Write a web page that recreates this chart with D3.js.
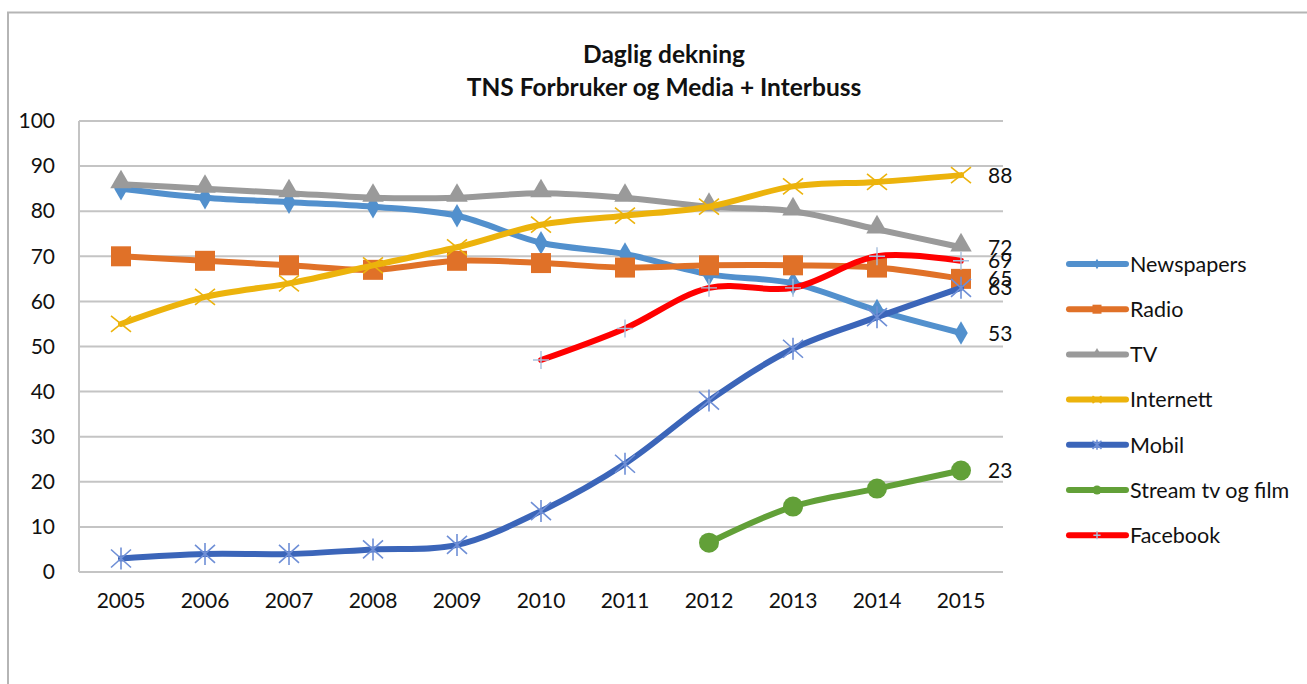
<!DOCTYPE html>
<html>
<head>
<meta charset="utf-8">
<script src="https://cdn.jsdelivr.net/npm/d3@7"></script>
<style>
  body { margin: 0; background: #fff; }
  svg { display: block; font-family: Lato, "Open Sans", sans-serif; }
</style>
</head>
<body>
<svg id="chart" width="1307" height="684"></svg>
<script>
const years = ["2005", "2006", "2007", "2008", "2009", "2010", "2011", "2012", "2013", "2014", "2015"];
const yTicks = [0, 10, 20, 30, 40, 50, 60, 70, 80, 90, 100];

const newspapers = [85, 83, 82, 81, 79, 73, 70.5, 66, 64, 58, 53];
const radio      = [70, 69, 68, 67, 69, 68.5, 67.5, 68, 68, 67.5, 65];
const tv         = [86, 85, 84, 83, 83, 84, 83, 81, 80, 76, 72];
const internett  = [55, 61, 64, 68, 72, 77, 79, 81, 85.5, 86.5, 88];
const mobil      = [3, 4, 4, 5, 6, 13.5, 24, 38, 49.5, 56.5, 63];
const stream     = [null, null, null, null, null, null, null, 6.5, 14.5, 18.5, 22.5];
const facebook   = [null, null, null, null, null, 47, 54, 63, 63, 70, 69];

const seriesNames = ["Newspapers", "Radio", "TV", "Internett", "Mobil", "Stream tv og film", "Facebook"];
const seriesValues = [newspapers, radio, tv, internett, mobil, stream, facebook];
const seriesColors = ["#5290cd", "#e07128", "#9a9a9a", "#ecb30c", "#3b65b9", "#62a038", "#ff0000"];
const seriesMarkers = ["diamond", "square", "triangle", "x", "asterisk", "circle", "plus"];

const svg = d3.select("#chart");
const margin = {left: 79, top: 121};
const plotRight = 1003;

// frame
svg.append("path")
    .attr("d", "M8,684 V12.5 H1307")
    .attr("fill", "none")
    .attr("stroke", "#b5b5b5")
    .attr("stroke-width", 2);

// title
const title = svg.append("text")
    .attr("text-anchor", "middle")
    .attr("font-weight", "bold")
    .attr("font-size", 24.5)
    .attr("fill", "#111");
title.append("tspan").attr("x", 664).attr("y", 63).text("Daglig dekning");
title.append("tspan").attr("x", 664).attr("y", 96).text("TNS Forbruker og Media + Interbuss");

const x = d3.scaleBand()
    .domain(years)
    .range([margin.left, plotRight]);

const y = d3.scaleLinear()
    .domain([0, 100])
    .range([572, margin.top]);

// gridlines
svg.append("g")
    .selectAll("line")
    .data(yTicks)
    .enter()
    .append("line")
    .attr("x1", margin.left)
    .attr("x2", plotRight)
    .attr("y1", d => y(d))
    .attr("y2", d => y(d))
    .attr("stroke", "#c4c4c4")
    .attr("stroke-width", 2);

// y axis line
svg.append("line")
    .attr("x1", margin.left).attr("x2", margin.left)
    .attr("y1", y(100)).attr("y2", y(0))
    .attr("stroke", "#c4c4c4")
    .attr("stroke-width", 2);

// y tick labels
const yAxis = svg.append("g")
    .attr("transform", `translate(${margin.left},0)`)
    .call(d3.axisLeft(y).tickValues(yTicks).tickSize(0).tickPadding(24));
yAxis.select(".domain").remove();
yAxis.selectAll("text")
    .attr("font-family", "Lato, sans-serif")
    .attr("font-size", 21)
    .attr("fill", "#111");

// x tick labels
const xAxis = svg.append("g")
    .attr("transform", `translate(0,${y(0)})`)
    .call(d3.axisBottom(x).tickSize(0).tickPadding(21));
xAxis.select(".domain").remove();
xAxis.selectAll("text")
    .attr("font-family", "Lato, sans-serif")
    .attr("font-size", 21)
    .attr("fill", "#111");

function drawMarker(g, type, color, cx, cy, scale) {
    const s = scale || 1;
    switch (type) {
        case "diamond":
            g.append("path")
                .attr("d", d3.symbol(d3.symbolDiamond, 160 * s * s)())
                .attr("transform", `translate(${cx},${cy})`)
                .attr("fill", color);
            break;
        case "square":
            g.append("rect")
                .attr("x", cx - 10 * s).attr("y", cy - 10 * s)
                .attr("width", 20 * s).attr("height", 20 * s)
                .attr("fill", color);
            break;
        case "triangle":
            g.append("path")
                .attr("d", d3.symbol(d3.symbolTriangle, 200 * s * s)())
                .attr("transform", `translate(${cx},${cy - 2 * s})`)
                .attr("fill", color);
            break;
        case "circle":
            g.append("circle")
                .attr("cx", cx).attr("cy", cy).attr("r", 10 * s)
                .attr("fill", color);
            break;
        case "x":
            g.append("path")
                .attr("d", `M${cx - 10 * s},${cy - 8 * s}L${cx + 10 * s},${cy + 8 * s}M${cx - 10 * s},${cy + 8 * s}L${cx + 10 * s},${cy - 8 * s}`)
                .attr("stroke", color).attr("stroke-width", 1.6).attr("fill", "none");
            break;
        case "asterisk":
            g.append("path")
                .attr("d", `M${cx - 10 * s},${cy - 9 * s}L${cx + 10 * s},${cy + 9 * s}M${cx - 10 * s},${cy + 9 * s}L${cx + 10 * s},${cy - 9 * s}M${cx},${cy - 11 * s}V${cy + 11 * s}`)
                .attr("stroke", "#6f8fd6").attr("stroke-width", 1.6).attr("fill", "none");
            break;
        case "plus":
            g.append("path")
                .attr("d", `M${cx - 8 * s},${cy}H${cx + 8 * s}M${cx},${cy - 9 * s}V${cy + 9 * s}`)
                .attr("stroke", "#a9bfdc").attr("stroke-width", 1.4).attr("fill", "none");
            break;
    }
}

const line = d3.line()
    .defined(d => d.v !== null)
    .x(d => x(d.year) + x.bandwidth() / 2)
    .y(d => y(d.v))
    .curve(d3.curveCatmullRom.alpha(0.5));

seriesNames.forEach((name, i) => {
    const pts = years.map((yr, j) => ({year: yr, v: seriesValues[i][j]}));
    const g = svg.append("g").attr("class", "series");
    g.append("path")
        .datum(pts)
        .attr("d", line)
        .attr("fill", "none")
        .attr("stroke", seriesColors[i])
        .attr("stroke-width", 6)
        .attr("stroke-linejoin", "round")
        .attr("stroke-linecap", "round");
    pts.filter(d => d.v !== null).forEach(d => {
        drawMarker(g, seriesMarkers[i], seriesColors[i], x(d.year) + x.bandwidth() / 2, y(d.v));
    });
});

// end labels (they crowd each other in the original too)
svg.append("g")
    .selectAll("text")
    .data(seriesValues)
    .enter()
    .append("text")
    .attr("x", 988)
    .attr("y", d => y(d[d.length - 1]))
    .attr("dy", "0.36em")
    .attr("font-size", 21)
    .attr("fill", "#111")
    .text(d => Math.round(d[d.length - 1]));

// legend
const legend = svg.append("g");
seriesNames.forEach((name, i) => {
    const ly = 264 + i * 45.2;
    const lg = legend.append("g");
    lg.append("line")
        .attr("x1", 1069).attr("x2", 1126)
        .attr("y1", ly).attr("y2", ly)
        .attr("stroke", seriesColors[i])
        .attr("stroke-width", 6)
        .attr("stroke-linecap", "round");
    drawMarker(lg, seriesMarkers[i], seriesColors[i], 1097, ly, 0.45);
    lg.append("text")
        .attr("x", 1130)
        .attr("y", ly)
        .attr("dy", "0.36em")
        .attr("font-size", 21.5)
        .attr("fill", "#111")
        .text(name);
});
</script>
</body>
</html>
